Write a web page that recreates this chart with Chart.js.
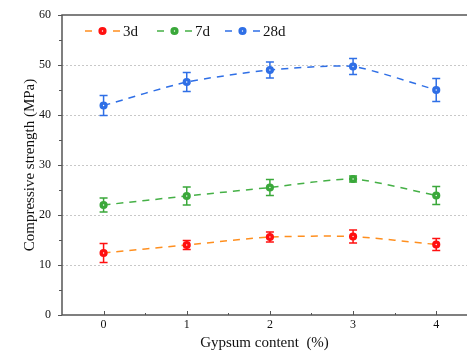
<!DOCTYPE html>
<html>
<head>
<meta charset="utf-8">
<script src="https://cdn.jsdelivr.net/npm/chart.js@4.4.1/dist/chart.umd.min.js"></script>
<style>
  html, body { margin: 0; padding: 0; background: #fff; overflow: hidden; }
</style>
</head>
<body>
<canvas id="chart" width="467" height="354"></canvas>
<script>
// data
const gypsum = [0, 1, 2, 3, 4];
const xTicks = [0, 1, 2, 3, 4];
const yTicks = [0, 10, 20, 30, 40, 50, 60];

const strength3d = [12.4, 14.0, 15.6, 15.7, 14.1];
const err3d = [1.9, 0.9, 1.0, 1.3, 1.2];
const strength7d = [22.0, 23.8, 25.5, 27.2, 23.9];
const err7d = [1.4, 1.8, 1.6, 0.6, 1.8];
const strength28d = [41.9, 46.6, 49.0, 49.7, 45.0];
const err28d = [2.0, 1.9, 1.6, 1.6, 2.3];

const seriesNames = ['3d', '7d', '28d'];
const lineColors = ['#ff8f1f', '#45b046', '#2f6fe6'];
const markColors = ['#ff1010', '#3aa83a', '#2f6fe6'];

const FONT = "'Liberation Serif', 'Times New Roman', serif";

function makeSet(i, vals, errs) {
  return {
    label: seriesNames[i],
    data: gypsum.map((x, k) => ({ x: x, y: vals[k] })),
    errors: errs,
    borderColor: lineColors[i],
    borderWidth: 1.5,
    borderDash: [7, 6],
    tension: 0.2,
    pointStyle: 'circle',
    pointRadius: 2.4,
    pointBorderWidth: 3.4,
    pointBackgroundColor: '#ffffff',
    pointBorderColor: markColors[i],
    markColor: markColors[i]
  };
}

// gridlines, error bars, frame, minor ticks and legend
const decorations = {
  id: 'decorations',
  beforeDatasetsDraw(chart) {
    const ctx = chart.ctx;
    const a = chart.chartArea;
    const xs = chart.scales.x, ys = chart.scales.y;
    ctx.save();
    ctx.strokeStyle = '#c8c8c8';
    ctx.lineWidth = 1;
    ctx.setLineDash([2, 2]);
    ctx.beginPath();
    yTicks.slice(1, -1).forEach(v => {
      const py = Math.round(ys.getPixelForValue(v)) + 0.5;
      ctx.moveTo(a.left, py); ctx.lineTo(a.right, py);
    });
    ctx.stroke();
    ctx.setLineDash([]);
    chart.data.datasets.forEach(ds => {
      ctx.strokeStyle = ds.markColor;
      ctx.lineWidth = 1.5;
      ds.data.forEach((p, k) => {
        const px = xs.getPixelForValue(p.x);
        const top = ys.getPixelForValue(p.y + ds.errors[k]);
        const bot = ys.getPixelForValue(p.y - ds.errors[k]);
        ctx.beginPath();
        ctx.moveTo(px, top); ctx.lineTo(px, bot);
        ctx.moveTo(px - 4, top); ctx.lineTo(px + 4, top);
        ctx.moveTo(px - 4, bot); ctx.lineTo(px + 4, bot);
        ctx.stroke();
      });
    });
    ctx.restore();
  },
  afterDraw(chart) {
    const ctx = chart.ctx;
    const a = chart.chartArea;
    const xs = chart.scales.x, ys = chart.scales.y;
    ctx.save();
    ctx.strokeStyle = '#555';
    ctx.lineWidth = 1.5;
    ctx.beginPath();
    ctx.moveTo(a.right, a.top); ctx.lineTo(a.left, a.top);
    ctx.lineTo(a.left, a.bottom); ctx.lineTo(a.right, a.bottom);
    ctx.stroke();

    ctx.lineWidth = 1;
    ctx.beginPath();
    for (let v = 0; v <= 60; v += 5) {
      const py = Math.round(ys.getPixelForValue(v)) + 0.5;
      const len = v % 10 === 0 ? 4 : 3;
      ctx.moveTo(a.left, py); ctx.lineTo(a.left - len, py);
    }
    for (let v = 0; v <= 4.5; v += 0.5) {
      const px = Math.round(xs.getPixelForValue(v)) + 0.5;
      const len = v % 1 === 0 ? 4 : 2;
      ctx.moveTo(px, a.bottom); ctx.lineTo(px, a.bottom - len);
    }
    ctx.stroke();

    // legend
    const ly = 31;
    const starts = [85, 157, 225];
    chart.data.datasets.forEach((ds, i) => {
      const x0 = starts[i];
      ctx.strokeStyle = ds.borderColor;
      ctx.lineWidth = 1.5;
      ctx.beginPath();
      ctx.moveTo(x0, ly); ctx.lineTo(x0 + 7, ly);
      ctx.moveTo(x0 + 28, ly); ctx.lineTo(x0 + 35, ly);
      ctx.stroke();
      ctx.beginPath();
      ctx.arc(x0 + 17.5, ly, 2.4, 0, Math.PI * 2);
      ctx.fillStyle = '#fff';
      ctx.fill();
      ctx.lineWidth = 3.4;
      ctx.strokeStyle = ds.markColor;
      ctx.stroke();
      ctx.fillStyle = '#111';
      ctx.font = '15px ' + FONT;
      ctx.textBaseline = 'middle';
      ctx.fillText(ds.label, x0 + 38, ly + 1);
    });
    ctx.restore();
  }
};

new Chart(document.getElementById('chart'), {
  type: 'line',
  data: {
    datasets: [
      makeSet(0, strength3d, err3d),
      makeSet(1, strength7d, err7d),
      makeSet(2, strength28d, err28d)
    ]
  },
  options: {
    responsive: false,
    animation: false,
    layout: { autoPadding: false, padding: { top: 15, right: 0, left: 0, bottom: 0 } },
    plugins: { legend: { display: false }, tooltip: { enabled: false } },
    scales: {
      x: {
        type: 'linear',
        min: -0.5,
        max: 4.37,
        afterBuildTicks: s => { s.ticks = xTicks.map(v => ({ value: v })); },
        afterFit: s => { s.height = 39; s.paddingLeft = 0; s.paddingRight = 0; },
        grid: { display: false, drawTicks: false },
        border: { display: false },
        ticks: { color: '#111', padding: 3, font: { family: FONT, size: 12 } },
        title: {
          display: true,
          text: 'Gypsum content  (%)',
          color: '#111',
          font: { family: FONT, size: 15 },
          padding: { top: 0, bottom: 2 }
        }
      },
      y: {
        min: 0,
        max: 60,
        afterBuildTicks: s => { s.ticks = yTicks.map(v => ({ value: v })); },
        afterFit: s => { s.width = 62; s.paddingTop = 0; s.paddingBottom = 0; },
        grid: { display: false, drawTicks: false },
        border: { display: false },
        ticks: { color: '#111', padding: 11, font: { family: FONT, size: 12 } },
        title: {
          display: true,
          text: 'Compressive strength (MPa)',
          color: '#111',
          font: { family: FONT, size: 15 },
          padding: { top: 21, bottom: 0 }
        }
      }
    }
  },
  plugins: [decorations]
});
</script>
</body>
</html>
